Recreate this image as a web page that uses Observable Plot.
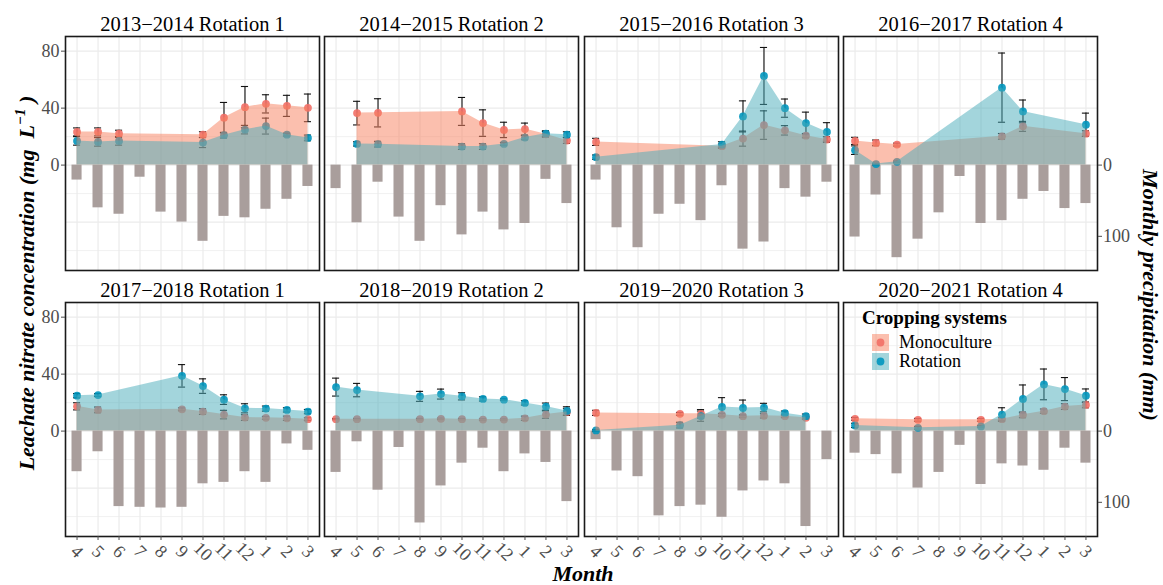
<!DOCTYPE html>
<html><head><meta charset="utf-8">
<script src="https://cdn.jsdelivr.net/npm/d3@7"></script>
<script src="https://cdn.jsdelivr.net/npm/@observablehq/plot@0.6"></script>
<style>
html,body{margin:0;padding:0;background:#fff;}
#chart{position:relative;width:1163px;height:585px;overflow:hidden;font-family:"Liberation Serif","Times New Roman",serif;}
#chart svg{position:absolute;}
</style></head><body><div id="chart"></div>
<script>
// ---------- data ----------
const monthLabels = ["4","5","6","7","8","9","10","11","12","1","2","3"];
const panelTitles = [
  "2013\u22122014 Rotation 1","2014\u22122015 Rotation 2","2015\u22122016 Rotation 3","2016\u22122017 Rotation 4",
  "2017\u22122018 Rotation 1","2018\u22122019 Rotation 2","2019\u22122020 Rotation 3","2020\u22122021 Rotation 4"
];
const sampledMonths = [
  [4,5,6,10,11,12,1,2,3],
  [5,6,10,11,12,1,2,3],
  [4,10,11,12,1,2,3],
  [4,5,6,11,12,3],
  [4,5,9,10,11,12,1,2,3],
  [4,5,8,9,10,11,12,1,2,3],
  [4,8,9,10,11,12,1,2],
  [4,7,10,11,12,1,2,3]
];
const monoMean = [
  [23.3,23.3,22,21.4,33.3,40.7,43,41.6,40.2],
  [36.5,36.7,37.7,29.5,24.7,25.3,21.6,17.2],
  [16.3,13.3,18.6,28.1,24.4,20.7,17.9],
  [17,15.6,14.4,20.2,27.2,22.1],
  [17.4,14.9,15.3,13.7,11.6,9.5,9.3,9,8.4],
  [8.4,8.4,8.4,8.6,8.4,8.1,8.1,9,11.6,13.5],
  [12.8,12.1,12.1,11.4,10.5,10.7,10.5,9.3],
  [8.6,7.9,7.9,8.4,11.4,14,17.2,18.4]
];
const monoErr = [
  [2.8,2.8,2.5,2,10.7,14.5,6.4,7.4,9.7],
  [8.3,9.9,9.8,9.3,5.4,4.2,2,2],
  [2.5,1.5,5.3,10,3.3,1.5,2],
  [2.5,2,1,2,3.5,2],
  [2.5,2,1,2,3,2,1,1.5,1],
  [0.4,0.5,0.5,0.5,0.5,0.5,0.4,1.5,2.6,2.5],
  [1.8,1,3,1,1,1.5,1,1],
  [1,1,1,1,2,1.5,2,2]
];
const rotMean = [
  [17,16.3,17,15.8,21,24.9,27.4,21.4,19.1],
  [14.9,14.7,13,13,14.9,19.3,22.1,21.4],
  [5.6,14.4,34.2,62.6,40,29.5,23.3],
  [10.5,0.7,2.3,54.4,37.7,28.4],
  [24.9,25.3,38.8,31.6,22.1,16,15.8,14.9,13.7],
  [30.9,28.8,24.4,26,24.4,22.6,22.1,19.8,17.2,14.2],
  [0.5,4.2,10.5,17,16.3,16.5,12.6,10.5],
  [4,2.3,3.3,11.6,22.6,32.8,29.5,24.9]
];
const rotErr = [
  [3,3,3,3.5,2,3,5.6,1,2],
  [1.5,2,2,2,1,1.5,2,2],
  [1.5,2,10.9,20,6.4,7.7,6.5],
  [3,0.5,0.5,24.3,8,8.1],
  [1.5,1,7.9,5.1,3.4,3.2,1.8,1.5,1.5],
  [6.3,4.7,3.5,3.5,2.5,1.5,0.5,1.5,2.5,2.9],
  [0.5,2,3.6,6.5,5.5,3,1.5,1.5],
  [1.5,1,0.5,4.8,9.8,10.8,8.1,4.7]
];
// monthly precipitation (mm), months 4..3
const precip = [
  [21,60,69,17,66,80,107,72,74,62,48,30],
  [33,81,24,73,107,57,98,66,91,82,20,54],
  [21,88,116,69,55,78,29,118,108,33,45,24],
  [101,42,130,104,67,16,82,78,48,37,61,54],
  [57,29,106,107,108,107,74,72,57,72,18,27],
  [58,15,83,23,129,77,45,24,57,32,44,99],
  [12,56,64,119,106,104,121,84,70,74,134,40],
  [31,33,60,80,58,20,75,46,49,55,24,45]
];
const concTicks = [0,40,80];
const precipTicks = [0,100];
const precipScale = 0.5; // precipitation drawn downward at half scale of concentration axis
const seriesNames = ["Monoculture","Rotation"];

// ---------- styling ----------
const monoPoint = "#F26F66", rotPoint = "#0096BE";
const monoFill = "#F8805E", rotFill = "#47ABBA";
const areaOpacity = 0.5;
const barFill = "#A99E9C";
const colLeft = [65, 324, 584, 843];
const rowTop = [36, 302];
const PW = 254, PH = 234;
const M = {l: 45, r: 45, t: 32, b: 50};
const chart = document.getElementById("chart");

panelTitles.forEach((title, k) => {
  const col = k % 4, row = Math.floor(k / 4);
  const idx = sampledMonths[k].map(m => monthLabels.indexOf(String(m)));
  const mono = idx.map((i, j) => ({i, v: monoMean[k][j], e: monoErr[k][j]}));
  const rot = idx.map((i, j) => ({i, v: rotMean[k][j], e: rotErr[k][j]}));
  const rain = precip[k].map((p, i) => ({i, p}));
  const errMarks = (data) => [
    Plot.ruleX(data, {x: "i", y1: d => d.v - d.e, y2: d => d.v + d.e, stroke: "#111", strokeWidth: 1.1}),
    Plot.ruleY(data, {y: d => d.v + d.e, x1: d => d.i - 0.17, x2: d => d.i + 0.17, stroke: "#111", strokeWidth: 1.1}),
    Plot.ruleY(data, {y: d => d.v - d.e, x1: d => d.i - 0.17, x2: d => d.i + 0.17, stroke: "#111", strokeWidth: 1.1})
  ];
  const marks = [
    Plot.gridY([-60,-20,20,60], {stroke: "#EBEBEB", strokeOpacity: 1, strokeWidth: 0.7}),
    Plot.gridY([-40,0,40,80], {stroke: "#EBEBEB", strokeOpacity: 1, strokeWidth: 1.2}),
    Plot.gridX(d3.range(12), {stroke: "#EBEBEB", strokeOpacity: 1, strokeWidth: 1.2}),
    Plot.rectY(rain, {x1: d => d.i - 0.24, x2: d => d.i + 0.24, y1: 0, y2: d => -d.p * precipScale, fill: barFill}),
    ...errMarks(mono), ...errMarks(rot),
    Plot.dot(mono, {x: "i", y: "v", r: 3.9, fill: monoPoint, fillOpacity: 0.9}),
    Plot.dot(rot, {x: "i", y: "v", r: 3.9, fill: rotPoint, fillOpacity: 0.9}),
    Plot.areaY(mono, {x: "i", y1: 0, y2: "v", fill: monoFill, fillOpacity: areaOpacity}),
    Plot.areaY(rot, {x: "i", y1: 0, y2: "v", fill: rotFill, fillOpacity: areaOpacity}),
    Plot.frame({stroke: "#1a1a1a", strokeWidth: 1.6}),
    Plot.text([title], {text: d => d, frameAnchor: "top", dy: -6, lineAnchor: "bottom", fontSize: 20.5, fill: "black", fontFamily: "Liberation Serif"})
  ];
  if (col === 0) marks.push(Plot.axisY({ticks: concTicks, anchor: "left", label: null, tickSize: 4, tickPadding: 2, fontSize: 18, color: "#4d4d4d"}));
  if (col === 3) marks.push(Plot.axisY({ticks: precipTicks.map(t => -t * precipScale), tickFormat: v => String(Math.round(-v / precipScale)), anchor: "right", label: null, tickSize: 4, tickPadding: 1.5, fontSize: 18, color: "#4d4d4d"}));
  if (row === 1) marks.push(Plot.axisX({ticks: d3.range(12), tickFormat: i => monthLabels[i], anchor: "bottom", label: null, tickSize: 4, tickPadding: 11, tickRotate: 45, textAnchor: "middle", lineAnchor: "middle", fontSize: 18, color: "#4d4d4d"}));
  const svg = Plot.plot({
    width: PW + M.l + M.r, height: PH + M.t + M.b,
    marginLeft: M.l, marginRight: M.r, marginTop: M.t, marginBottom: M.b,
    x: {type: "linear", domain: [-0.55, 11.55], axis: null},
    y: {type: "linear", domain: [-74, 90.3], axis: null},
    style: {fontFamily: "Liberation Serif", fontSize: "18px", color: "#4d4d4d", background: "transparent", overflow: "visible"},
    marks
  });
  svg.style.left = (colLeft[col] - M.l) + "px";
  svg.style.top = (rowTop[row] - M.t) + "px";
  svg.style.maxWidth = "none";
  chart.appendChild(svg);
});

// ---------- axis titles and legend ----------
const ov = d3.select(chart).append("svg")
  .attr("width", 1163).attr("height", 585)
  .style("left", "0px").style("top", "0px").style("pointer-events", "none")
  .style("font-family", "Liberation Serif");

const lt = ov.append("text").attr("transform", "translate(34,283) rotate(-90)")
  .attr("text-anchor", "middle").attr("font-size", 22).attr("font-weight", "bold").attr("font-style", "italic").attr("fill", "black");
lt.append("tspan").text("Leachate nitrate concentration (mg\u00a0\u00a0L");
lt.append("tspan").attr("dy", -9).attr("font-size", 15).text("\u22121");
lt.append("tspan").attr("dy", 9).text("\u00a0)");

ov.append("text").attr("transform", "translate(1143,295) rotate(90)")
  .attr("text-anchor", "middle").attr("font-size", 22).attr("font-weight", "bold").attr("font-style", "italic").attr("fill", "black")
  .text("Monthly precipitation (mm)");

ov.append("text").attr("x", 583).attr("y", 581)
  .attr("text-anchor", "middle").attr("font-size", 22).attr("font-weight", "bold").attr("font-style", "italic").attr("fill", "black")
  .text("Month");

const lg = ov.append("g");
lg.append("text").attr("x", 862).attr("y", 324).attr("font-size", 19).attr("font-weight", "bold").attr("fill", "black").text("Cropping systems");
[[monoFill, monoPoint], [rotFill, rotPoint]].forEach(([f, p], j) => {
  const y0 = 334 + j * 19;
  lg.append("rect").attr("x", 872).attr("y", y0).attr("width", 17).attr("height", 17).attr("fill", f).attr("fill-opacity", areaOpacity);
  lg.append("circle").attr("cx", 880.5).attr("cy", y0 + 8.5).attr("r", 3.9).attr("fill", p).attr("fill-opacity", 0.9);
  lg.append("text").attr("x", 899).attr("y", y0 + 14).attr("font-size", 18).attr("fill", "black").text(seriesNames[j]);
});
</script></body></html>
